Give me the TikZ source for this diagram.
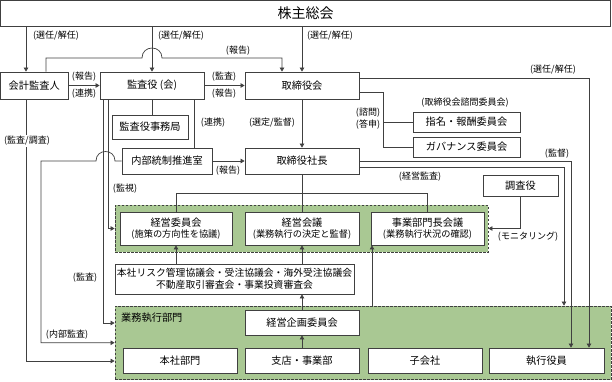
\documentclass[tikz,border=0pt]{standalone}
\usepackage{fontspec}
\setmainfont{Noto Sans CJK JP}
\usetikzlibrary{arrows.meta,calc}
\definecolor{ln}{HTML}{404040}
\definecolor{gfill}{HTML}{A9C893}
\begin{document}
\begin{tikzpicture}[x=1pt,y=-1pt,
 box/.style={draw=ln,line width=0.8pt,fill=white,inner sep=0pt,align=center,font=\fontsize{10.2}{13}\selectfont},
 lbl/.style={font=\fontsize{9}{10}\selectfont,inner sep=0pt,text=black},
 conn/.style={draw=ln,line width=0.7pt},
 arr/.style={conn,-{Triangle[length=4pt,width=4.5pt]}},
 grp/.style={draw=ln,dash pattern=on 2.5pt off 1.5pt,line width=0.8pt,fill=gfill,inner sep=0pt}]
\useasboundingbox (0,0) rectangle (612,381);
% groups
\node[grp,minimum width=373pt,minimum height=47pt] (g1) at (301.5,228.5) {};
\node[grp,minimum width=496pt,minimum height=73.5pt] (g2) at (363,342.75) {};
% boxes
\node[box,minimum width=610pt,minimum height=25.5pt,font=\fontsize{14}{16}\selectfont] (kabu) at (305.5,13.25) {株主総会};
\node[box,minimum width=67.5pt,minimum height=27pt] (kaikei) at (34.25,85.5) {会計監査人};
\node[box,minimum width=104pt,minimum height=27pt] (kansa) at (152,85.5) {監査役 (会)};
\node[box,minimum width=114pt,minimum height=27pt] (tori) at (302,85.5) {取締役会};
\node[box,minimum width=76pt,minimum height=24pt] (jimu) at (150,127) {監査役事務局};
\node[box,minimum width=90pt,minimum height=26pt] (naibu) at (167,161) {内部統制推進室};
\node[box,minimum width=114pt,minimum height=26pt] (shacho) at (302,161) {取締役社長};
\node[box,minimum width=107pt,minimum height=20pt] (shimei) at (466.5,122) {指名・報酬委員会};
\node[box,minimum width=107pt,minimum height=20pt] (gov) at (466.5,147) {ガバナンス委員会};
\node[box,minimum width=75pt,minimum height=21pt] (chosa) at (520.5,185.5) {調査役};
\node[box,minimum width=112pt,minimum height=33pt] (iinkai) at (176,228.5) {経営委員会\\[-2.5pt]{\fontsize{9.2}{10}\selectfont (施策の方向性を協議)}};
\node[box,minimum width=114pt,minimum height=33pt] (kaigi) at (302,228.5) {経営会議\\[-2.5pt]{\fontsize{9.2}{10}\selectfont (業務執行の決定と監督)}};
\node[box,minimum width=113pt,minimum height=33pt] (jigyo) at (427.5,228.5) {事業部門長会議\\[-2.5pt]{\fontsize{9.2}{10}\selectfont (業務執行状況の確認)}};
\node[box,minimum width=239pt,minimum height=30pt,font=\fontsize{9.8}{12.5}\selectfont] (risk) at (234.5,279) {本社リスク管理協議会・受注協議会・海外受注協議会\\不動産取引審査会・事業投資審査会};
\node[box,minimum width=114pt,minimum height=25pt] (kikaku) at (302,322.5) {経営企画委員会};
\node[box,minimum width=114pt,minimum height=25pt] (honsha) at (180,360.5) {本社部門};
\node[box,minimum width=114pt,minimum height=25pt] (shiten) at (302,360.5) {支店・事業部};
\node[box,minimum width=114pt,minimum height=25pt] (kogaisha) at (425,360.5) {子会社};
\node[box,minimum width=115pt,minimum height=25pt] (shikko) at (546.5,360.5) {執行役員};
\node[anchor=west,inner sep=0pt,font=\fontsize{10.2}{12}\selectfont] (gyomu) at (121,318) {業務執行部門};
% helper coordinates
\coordinate (xA) at (26,0);
\coordinate (xB) at (46,0);
\coordinate (xC) at (282,0);
\coordinate (xD) at (103,0);
\coordinate (xE) at (108,0);
\coordinate (xF) at (194,0);
\coordinate (xG) at (589,0);
\coordinate (xH) at (383,0);
\coordinate (xI) at (571,0);
\coordinate (xJ) at (564,0);
\coordinate (xK) at (372,0);
\coordinate (yA) at (0,323);
\coordinate (yC) at (0,361);
\coordinate (yL) at (0,193);
% connectors
\draw[arr] (kabu.south -| xA) -- (kaikei.north -| xA);
\draw[arr] (kabu.south -| kansa.north) -- (kansa.north);
\draw[arr] (kabu.south -| tori.north) -- (tori.north);
\draw[arr] (kaikei.north -| xB) -- (46,58) -- (142,58) .. controls (142,44.7) and (162,44.7) .. (162,58) -- (282,58) -- (tori.north -| xC);
\draw[arr] (kaikei.east) -- (kansa.west);
\draw[arr] (kansa.east) -- (tori.west);
\draw[conn] (kansa.south) -- (kansa.south |- jimu.north);
\draw[conn] (kansa.south -| xF) -- (naibu.north -| xF);
\draw[arr] (kansa.south -| xE) |- (g1.west);
\draw[arr] (kansa.south -| xD) |- (g2.west |- yA);
\draw[arr] (naibu.west) -- (115,161) .. controls (115,148.3) and (96,148.3) .. (96,161) -- (41,161) |- (g2.west);
\draw[arr] (kaikei.south -| xA) |- (g2.west |- yC);
\draw[arr] (naibu.east) -- (shacho.west);
\draw[arr] (tori.south) -- (shacho.north);
\draw[arr] ([yshift=7.5pt]tori.east) -| (shikko.north -| xG);
\draw[conn] ([yshift=-6.5pt]tori.east) -| (gov.west -| xH) -- (gov.west);
\draw[conn] (shimei.west -| xH) -- (shimei.west);
\draw[arr] (shacho.east) -| (shikko.north -| xI);
\draw[arr] ([yshift=-6pt]shacho.east) -| (g2.north -| xJ);
\draw[conn] (shacho.south) -- (kaigi.north);
\draw[conn] (iinkai.north) -- (iinkai.north |- yL) -- (jigyo.north |- yL) -- (jigyo.north);
\draw[arr] (chosa.south) |- (g1.east);
\draw[arr] (iinkai.south |- risk.north) -- (iinkai.south);
\draw[arr] (kaigi.south |- risk.north) -- (kaigi.south);
\draw[arr] (kikaku.north) -- (kikaku.north |- risk.south);
\draw[arr] (shiten.north) -- (kikaku.south);
\draw[arr] (g2.north -| xK) -- (jigyo.south -| xK);
% labels
\node[lbl] (l1) at (56,36) {(選任/解任)};
\node[lbl] (l2) at (181,36) {(選任/解任)};
\node[lbl] (l3) at (330,36) {(選任/解任)};
\node[lbl] (l4) at (553,70) {(選任/解任)};
\node[lbl] (l5) at (238,51) {(報告)};
\node[lbl] (l6) at (84,77) {(報告)};
\node[lbl] (l7) at (84,94) {(連携)};
\node[lbl] (l8) at (224,77) {(監査)};
\node[lbl] (l9) at (224,94) {(報告)};
\node[lbl,fill=white,inner ysep=1pt] (l10) at (27,141) {(監査/調査)};
\node[lbl] (l11) at (213,123) {(連携)};
\node[lbl] (l12) at (272,123) {(選定/監督)};
\node[lbl] (l13) at (228,171) {(報告)};
\node[lbl] (l14) at (368,113) {(諮問)};
\node[lbl] (l15) at (368,125) {(答申)};
\node[lbl] (l16) at (465,103) {(取締役会諮問委員会)};
\node[lbl] (l17) at (557,154) {(監督)};
\node[lbl] (l18) at (420,177) {(経営監査)};
\node[lbl] (l19) at (125,189) {(監視)};
\node[lbl] (l20) at (528,237) {(モニタリング)};
\node[lbl] (l21) at (85,278) {(監査)};
\node[lbl] (l22) at (67,335) {(内部監査)};
\end{tikzpicture}
\end{document}
